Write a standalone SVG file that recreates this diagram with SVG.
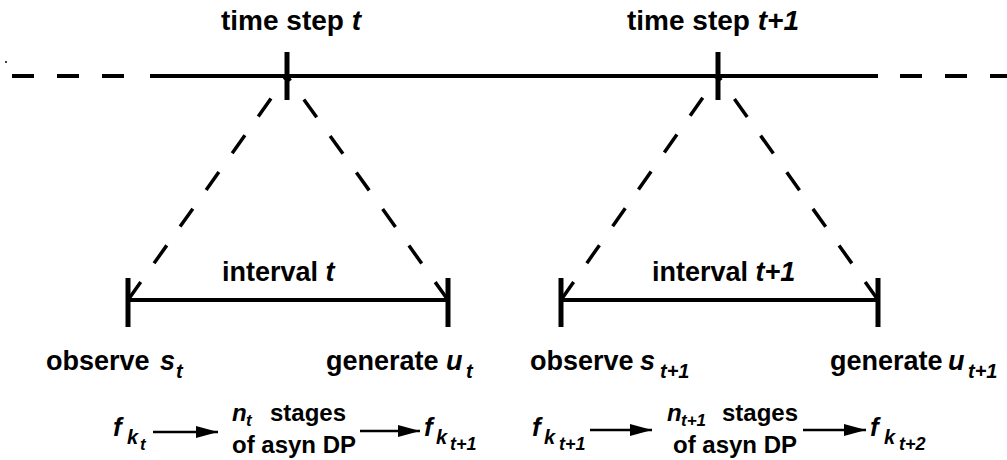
<svg xmlns="http://www.w3.org/2000/svg" width="1007" height="460" viewBox="0 0 1007 460">
  <defs>
    <style>
      .txt { font-family: "Liberation Sans", Arial, Helvetica, sans-serif; font-weight: bold; fill: #000; }
      .big { font-size: 27px; }
      .head { font-size: 28px; }
      .mid { font-size: 24px; }
      .fn { font-size: 26px; font-style: italic; }
      .it { font-style: italic; }
      .sub { font-size: 20px; font-style: italic; }
      .sub2 { font-size: 17px; font-style: italic; }
      .solid { stroke: #000; stroke-width: 4; fill: none; }
      .tick { stroke: #000; stroke-width: 5; fill: none; }
      .dash { stroke: #000; stroke-width: 4; fill: none; stroke-dasharray: 22 23; }
      .diag { stroke: #000; stroke-width: 3.5; fill: none; stroke-dasharray: 22 23; }
      .arrow { stroke: #000; stroke-width: 2.5; fill: none; }
    </style>
    <marker id="head" markerUnits="userSpaceOnUse" markerWidth="22" markerHeight="12" refX="22" refY="6" orient="auto">
      <path d="M0,0 L22,6 L0,12 Z" fill="#000"/>
    </marker>
  </defs>

  <rect width="1007" height="460" fill="#fff"/>
  <circle cx="6" cy="62" r="1" fill="#000"/>

  <!-- time axis -->
  <g id="timeline">
    <line class="dash" x1="12" y1="76" x2="127" y2="76"/>
    <line class="solid" x1="150" y1="76" x2="878" y2="76"/>
    <line class="dash" x1="900" y1="76" x2="1007" y2="76"/>
  </g>

  <g id="step-t">
    <line class="tick" x1="287" y1="52" x2="287" y2="100"/>
    <text class="txt head" x="221" y="30">time step <tspan class="it">t</tspan></text>
  </g>

  <g id="step-t1">
    <line class="tick" x1="718" y1="52" x2="718" y2="100"/>
    <text class="txt head" x="627" y="30">time step <tspan class="it">t+1</tspan></text>
  </g>

  <!-- interval bars -->
  <g id="interval-t">
    <line class="solid" x1="128" y1="300" x2="448" y2="300"/>
    <line class="tick" x1="128" y1="278" x2="128" y2="327"/>
    <line class="tick" x1="448" y1="278" x2="448" y2="327"/>
    <text class="txt big" x="222" y="281">interval <tspan class="it">t</tspan></text>
  </g>

  <g id="interval-t1">
    <line class="solid" x1="561" y1="300" x2="878" y2="300"/>
    <line class="tick" x1="561" y1="278" x2="561" y2="327"/>
    <line class="tick" x1="878" y1="278" x2="878" y2="327"/>
    <text class="txt big" x="652" y="281">interval <tspan class="it">t+1</tspan></text>
  </g>

  <!-- end-of-interval events -->
  <g id="observe-t">
    <text class="txt big" x="46" y="370">observe</text>
    <text class="txt big it" x="160" y="370">s</text>
    <text class="txt sub" x="176" y="378">t</text>
  </g>
  <g id="generate-t">
    <text class="txt big" x="326" y="370">generate</text>
    <text class="txt big it" x="446" y="370">u</text>
    <text class="txt sub" x="466" y="378">t</text>
  </g>
  <g id="observe-t1">
    <text class="txt big" x="530" y="370">observe</text>
    <text class="txt big it" x="640" y="370">s</text>
    <text class="txt sub" x="660" y="378">t+1</text>
  </g>
  <g id="generate-t1">
    <text class="txt big" x="830" y="370">generate</text>
    <text class="txt big it" x="948" y="370">u</text>
    <text class="txt sub" x="968" y="378">t+1</text>
  </g>

  <!-- value-function sequence -->
  <g id="f-kt">
    <text class="txt fn" x="113" y="436">f</text>
    <text class="txt sub" x="127" y="444">k</text>
    <text class="txt sub2" x="140" y="450">t</text>
  </g>
  <g id="stages-t">
    <text class="txt mid it" x="232" y="421">n</text>
    <text class="txt sub2" x="246" y="426">t</text>
    <text class="txt mid" x="270" y="421">stages</text>
    <text class="txt mid" x="232" y="453">of asyn DP</text>
  </g>
  <g id="f-kt1">
    <text class="txt fn" x="424" y="436">f</text>
    <text class="txt sub" x="436" y="444">k</text>
    <text class="txt sub2" x="450" y="450" style="font-size:18px">t+1</text>
  </g>
  <g id="f-kt1b">
    <text class="txt fn" x="532" y="436">f</text>
    <text class="txt sub" x="544" y="444">k</text>
    <text class="txt sub2" x="559" y="450" style="font-size:18px">t+1</text>
  </g>
  <g id="stages-t1">
    <text class="txt mid it" x="667" y="421">n</text>
    <text class="txt sub2" x="681" y="426">t+1</text>
    <text class="txt mid" x="722" y="421">stages</text>
    <text class="txt mid" x="673" y="453">of asyn DP</text>
  </g>
  <g id="f-kt2">
    <text class="txt fn" x="870" y="436">f</text>
    <text class="txt sub" x="884" y="444">k</text>
    <text class="txt sub2" x="899" y="450" style="font-size:18px">t+2</text>
  </g>

  <!-- connectors: projection of each time step onto its interval, and the DP flow -->
  <g id="connectors">
    <line class="diag" x1="128" y1="300" x2="287" y2="76"/>
    <line class="diag" x1="448" y1="300" x2="287" y2="76"/>
    <line class="diag" x1="561" y1="300" x2="718" y2="76"/>
    <line class="diag" x1="878" y1="300" x2="718" y2="76"/>

    <line class="arrow" x1="153" y1="432" x2="218" y2="432" marker-end="url(#head)"/>
    <line class="arrow" x1="360" y1="431" x2="420" y2="431" marker-end="url(#head)"/>
    <line class="arrow" x1="590" y1="430" x2="652" y2="430" marker-end="url(#head)"/>
    <line class="arrow" x1="803" y1="430" x2="866" y2="430" marker-end="url(#head)"/>
  </g>
</svg>
